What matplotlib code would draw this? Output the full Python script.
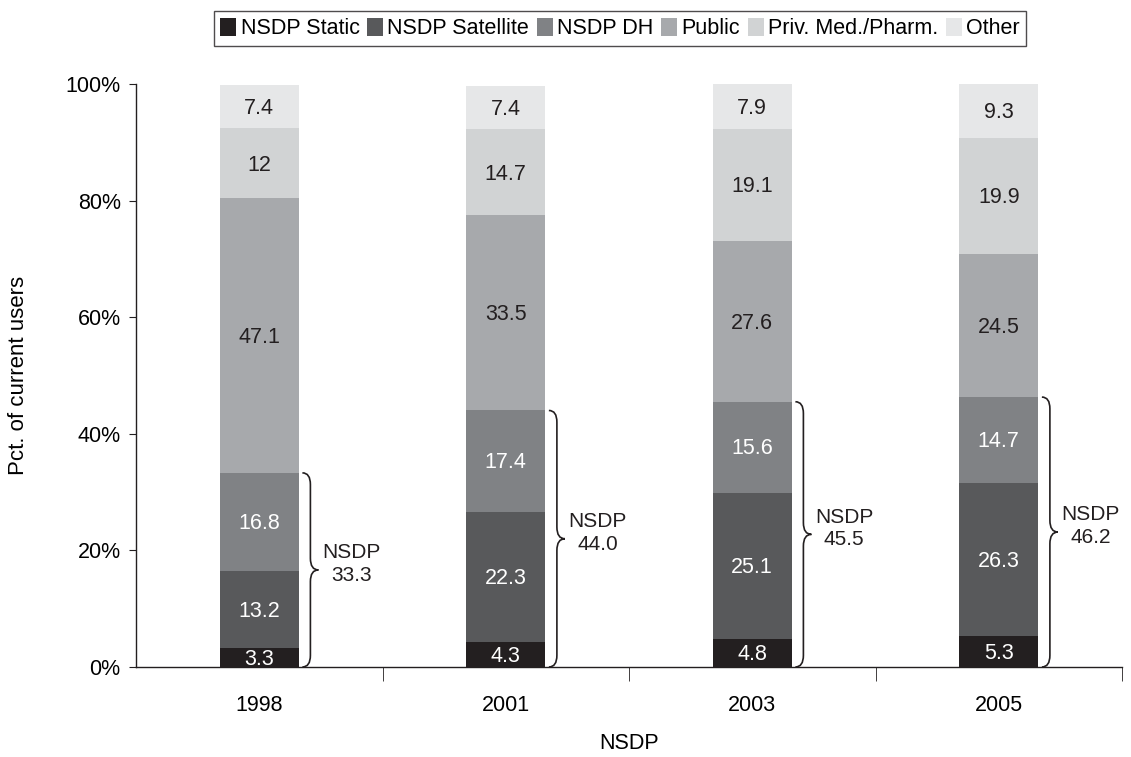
import matplotlib
matplotlib.use("Agg")
import matplotlib.pyplot as plt
from matplotlib.path import Path
from matplotlib.patches import PathPatch, Patch
import numpy as np

plt.rcParams['font.family'] = ['Liberation Sans', 'DejaVu Sans']

years = ["1998", "2001", "2003", "2005"]
series_names = ["NSDP Static", "NSDP Satellite", "NSDP DH", "Public", "Priv. Med./Pharm.", "Other"]
nsdp_static = [3.3, 4.3, 4.8, 5.3]
nsdp_satellite = [13.2, 22.3, 25.1, 26.3]
nsdp_dh = [16.8, 17.4, 15.6, 14.7]
public = [47.1, 33.5, 27.6, 24.5]
priv_med = [12, 14.7, 19.1, 19.9]
other = [7.4, 7.4, 7.9, 9.3]
label_texts = [
    ["3.3", "4.3", "4.8", "5.3"],
    ["13.2", "22.3", "25.1", "26.3"],
    ["16.8", "17.4", "15.6", "14.7"],
    ["47.1", "33.5", "27.6", "24.5"],
    ["12", "14.7", "19.1", "19.9"],
    ["7.4", "7.4", "7.9", "9.3"],
]
nsdp_totals = ["33.3", "44.0", "45.5", "46.2"]

colors = ["#231f20", "#58595b", "#808285", "#a7a9ac", "#d1d3d4", "#e6e7e8"]
text_colors = ["white", "white", "white", "#231f20", "#231f20", "#231f20"]

series = [nsdp_static, nsdp_satellite, nsdp_dh, public, priv_med, other]

fig = plt.figure(figsize=(11.31, 7.57), dpi=100)
ax = fig.add_axes([136/1131, 90/757, 986/1131, 583/757])

x = np.arange(len(years))
width = 0.32
bottom = np.zeros(len(years))
for i, (vals, c) in enumerate(zip(series, colors)):
    vals = np.array(vals, dtype=float)
    ax.bar(x, vals, width, bottom=bottom, color=c, edgecolor='none', label=series_names[i])
    for j in range(len(years)):
        ax.text(x[j], bottom[j] + vals[j] / 2 - 0.3, label_texts[i][j], ha='center', va='center',
                fontsize=15.5, color=text_colors[i])
    bottom += vals

# braces
def brace(ax, x0, y0, y1, w=0.065, r=2.0):
    xm = x0 + w / 2
    ymid = (y0 + y1) / 2
    verts = [
        (x0, y0), (xm, y0), (xm, y0 + r),
        (xm, ymid - r),
        (xm, ymid), (x0 + w, ymid),
        (xm, ymid), (xm, ymid + r),
        (xm, y1 - r),
        (xm, y1), (x0, y1),
    ]
    codes = [Path.MOVETO, Path.CURVE3, Path.CURVE3,
             Path.LINETO,
             Path.CURVE3, Path.CURVE3,
             Path.CURVE3, Path.CURVE3,
             Path.LINETO,
             Path.CURVE3, Path.CURVE3]
    ax.add_patch(PathPatch(Path(verts, codes), fill=False, edgecolor='#231f20', lw=1.2))
    return x0 + w, ymid

for j in range(len(years)):
    top = nsdp_static[j] + nsdp_satellite[j] + nsdp_dh[j]
    tipx, tipy = brace(ax, x[j] + width / 2 + 0.015, 0, top)
    ax.text(tipx + 0.015, tipy + 1.0, "NSDP\n" + nsdp_totals[j], ha='left', va='center',
            multialignment='center', fontsize=15, color='#231f20', linespacing=1.25)

ax.set_xlim(-0.5, 3.5)
ax.set_ylim(0, 100)
ax.set_yticks([0, 20, 40, 60, 80, 100])
ax.set_yticklabels(["0%", "20%", "40%", "60%", "80%", "100%"], fontsize=15.5)
ax.set_xticks(x)
ax.set_xticklabels(years, fontsize=15.5)
ax.tick_params(axis='x', which='major', length=0, pad=20)
ax.set_xticks([0.5, 1.5, 2.5, 3.5], minor=True)
ax.tick_params(axis='x', which='minor', length=10, direction='out', color='#231f20')
ax.tick_params(axis='y', length=5, direction='out', color='#231f20', pad=6)
for s in ['top', 'right']:
    ax.spines[s].set_visible(False)
for s in ['left', 'bottom']:
    ax.spines[s].set_color('#231f20')
    ax.spines[s].set_linewidth(1.0)

ax.set_ylabel("Pct. of current users", fontsize=16)
ax.yaxis.set_label_coords((29 - 136) / 986, 0.5)
ax.set_xlabel("NSDP", fontsize=15.5)
ax.xaxis.set_label_coords(0.5, (667 - 733) / 583)

handles = [Patch(facecolor=c, edgecolor='none') for c in colors]
leg = fig.legend(handles, series_names, loc='center', bbox_to_anchor=(620/1131, 1 - 28.5/757), ncol=6,
                 fontsize=15.5, frameon=True, fancybox=False, edgecolor='#231f20',
                 handlelength=0.75, handleheight=0.9, handletextpad=0.2, columnspacing=0.35,
                 borderpad=0.3, borderaxespad=0)
leg.get_frame().set_linewidth(1.0)

fig.savefig("out.png", dpi=100)
